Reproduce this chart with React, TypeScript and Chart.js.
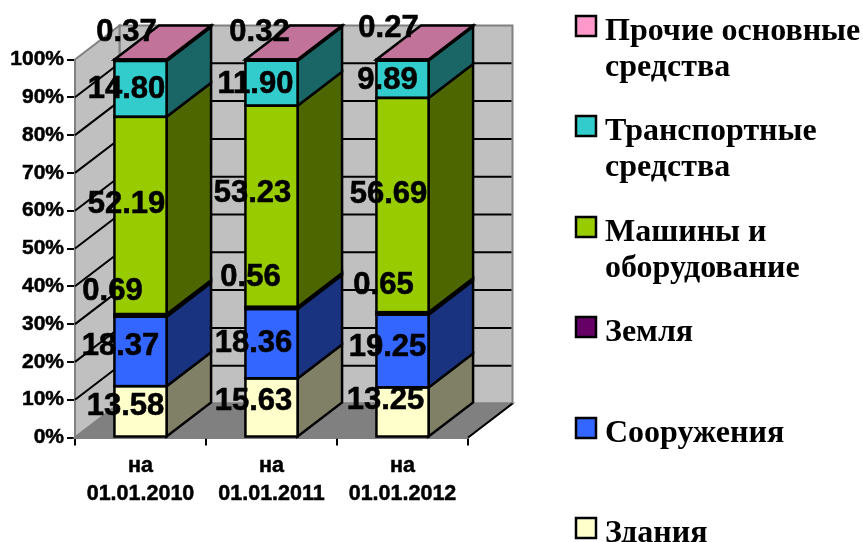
import React, { useEffect, useRef } from "react";
import { Chart, registerables } from "chart.js";

Chart.register(...registerables);

const categories = [["на", "01.01.2010"], ["на", "01.01.2011"], ["на", "01.01.2012"]];
const zdaniya = [13.58, 15.63, 13.25];
const sooruzheniya = [18.37, 18.36, 19.25];
const zemlya = [0.69, 0.56, 0.65];
const mashiny = [52.19, 53.23, 56.69];
const transport = [14.8, 11.9, 9.89];
const prochie = [0.37, 0.32, 0.27];

const legendZdaniya = ["Здания"];
const legendSooruzheniya = ["Сооружения"];
const legendZemlya = ["Земля"];
const legendMashiny = ["Машины и", "оборудование"];
const legendTransport = ["Транспортные", "средства"];
const legendProchie = ["Прочие основные", "средства"];

const SANS = '"Liberation Sans", Arial, sans-serif';
const SERIF = '"Liberation Serif", "Times New Roman", serif';
const DEPTH_X = 44.5;
const DEPTH_Y = 34;
const LEGEND_TOPS = [16, 116, 217, 317, 418, 518];

// label nudges, px from each segment's middle (dx, dy) per series, bottom series first
const LABEL_NUDGE: number[][][] = [
  [[-15, -4.5], [-18, -6], [-17, -11.5]],
  [[-20, -4.5], [-18, -0.5], [-15, -4]],
  [[-28, -23.5], [-21, -30.5], [-19, -27.5]],
  [[-14, -11.5], [-19, -12.5], [-14, -11]],
  [[-14, 0.5], [-16, 1.5], [-15, 1.5]],
  [[-14, -27.5], [-12, -27.5], [-14, -32]],
];

const poly = (ctx: CanvasRenderingContext2D, pts: number[][], fill: string | null, stroke: string | null, lw = 2.5) => {
  ctx.beginPath();
  pts.forEach((p, i) => (i ? ctx.lineTo(p[0], p[1]) : ctx.moveTo(p[0], p[1])));
  ctx.closePath();
  if (fill) {
    ctx.fillStyle = fill;
    ctx.fill();
  }
  if (stroke) {
    ctx.strokeStyle = stroke;
    ctx.lineWidth = lw;
    ctx.stroke();
  }
};

const box3d = {
  id: "box3d",
  beforeDatasetsDraw(chart: any) {
    const { ctx, chartArea: a, scales } = chart;
    const y = scales.y;
    ctx.save();
    ctx.lineJoin = "miter";
    // walls
    poly(ctx, [[a.left + DEPTH_X, a.top - DEPTH_Y], [a.right + DEPTH_X, a.top - DEPTH_Y], [a.right + DEPTH_X, a.bottom - DEPTH_Y], [a.left + DEPTH_X, a.bottom - DEPTH_Y]], "#C0C0C0", "#808080", 2);
    poly(ctx, [[a.left, a.top], [a.left + DEPTH_X, a.top - DEPTH_Y], [a.left + DEPTH_X, a.bottom - DEPTH_Y], [a.left, a.bottom]], "#C0C0C0", "#808080", 2);
    // floor
    poly(ctx, [[a.left, a.bottom], [a.right, a.bottom], [a.right + DEPTH_X, a.bottom - DEPTH_Y], [a.left + DEPTH_X, a.bottom - DEPTH_Y]], "#808080", "#808080", 2);
    // grid on walls
    ctx.strokeStyle = "#000";
    ctx.lineWidth = 2;
    y.ticks.forEach((t: any) => {
      if (t.value <= 0 || t.value >= 100) return;
      const py = y.getPixelForValue(t.value);
      ctx.beginPath();
      ctx.moveTo(a.left, py);
      ctx.lineTo(a.left + DEPTH_X, py - DEPTH_Y);
      ctx.lineTo(a.right + DEPTH_X - 1, py - DEPTH_Y);
      ctx.stroke();
    });
    // floor front-right edge
    ctx.beginPath();
    ctx.moveTo(a.right, a.bottom);
    ctx.lineTo(a.right + DEPTH_X, a.bottom - DEPTH_Y);
    ctx.stroke();
    // bar sides and tops
    const sides = chart.data.datasets.map((d: any) => d.sideColor);
    chart.data.datasets.forEach((d: any, di: number) => {
      chart.getDatasetMeta(di).data.forEach((bar: any) => {
        const r = bar.x + bar.width / 2;
        const l = bar.x - bar.width / 2;
        poly(ctx, [[r, bar.y], [r + DEPTH_X, bar.y - DEPTH_Y], [r + DEPTH_X, bar.base - DEPTH_Y], [r, bar.base]], sides[di], "#000");
        if (di === chart.data.datasets.length - 1) {
          poly(ctx, [[l, bar.y], [l + DEPTH_X, bar.y - DEPTH_Y], [r + DEPTH_X, bar.y - DEPTH_Y], [r, bar.y]], d.topColor, "#000");
        }
      });
    });
    ctx.restore();
  },
  afterDatasetsDraw(chart: any) {
    const { ctx } = chart;
    ctx.save();
    // outlines straddle each front face's edge, so the thinnest band reads as a dark stripe
    ctx.strokeStyle = "#000";
    ctx.lineWidth = 2.5;
    chart.data.datasets.forEach((d: any, di: number) => {
      chart.getDatasetMeta(di).data.forEach((bar: any) => {
        ctx.strokeRect(bar.x - bar.width / 2, bar.y, bar.width, bar.base - bar.y);
      });
    });
    ctx.font = `bold 31px ${SANS}`;
    ctx.fillStyle = "#000";
    ctx.strokeStyle = "#000";
    ctx.lineWidth = 0.6;
    ctx.textAlign = "center";
    ctx.textBaseline = "middle";
    chart.data.datasets.forEach((d: any, di: number) => {
      chart.getDatasetMeta(di).data.forEach((bar: any, i: number) => {
        const [dx, dy] = LABEL_NUDGE[di][i];
        const text = Number(d.data[i]).toFixed(2);
        const tx = bar.x + dx;
        const ty = (bar.y + bar.base) / 2 + dy;
        ctx.fillText(text, tx, ty);
        ctx.strokeText(text, tx, ty);
      });
    });
    ctx.restore();
  },
  afterDraw(chart: any) {
    const { ctx } = chart;
    ctx.save();
    ctx.textBaseline = "alphabetic";
    ctx.textAlign = "left";
    const list = [...chart.data.datasets].reverse();
    list.forEach((d: any, i: number) => {
      const top = LEGEND_TOPS[i];
      ctx.fillStyle = d.backgroundColor;
      ctx.fillRect(576, top, 20, 20);
      ctx.strokeStyle = "#000";
      ctx.lineWidth = 2.5;
      ctx.strokeRect(576, top, 20, 20);
      ctx.fillStyle = "#000";
      ctx.font = `bold 32px ${SERIF}`;
      d.legendLines.forEach((line: string, li: number) => {
        ctx.fillText(line, 605, top + 23.5 + li * 36.5);
      });
    });
    ctx.restore();
  },
};

export default function App() {
  const ref = useRef<HTMLCanvasElement>(null);
  useEffect(() => {
    const ds = (label: string, data: number[], fill: string, side: string, legendLines: string[], top?: string) => ({
      label,
      data,
      backgroundColor: fill,
      sideColor: side,
      topColor: top,
      legendLines,
      borderWidth: 0,
      categoryPercentage: 1,
      barPercentage: 0.398,
    });
    const chart = new Chart(ref.current!, {
      type: "bar",
      data: {
        labels: categories,
        datasets: [
          ds("Здания", zdaniya, "#FFFFCC", "#808066", legendZdaniya),
          ds("Сооружения", sooruzheniya, "#3366FF", "#1A3380", legendSooruzheniya),
          ds("Земля", zemlya, "#660066", "#330033", legendZemlya),
          ds("Машины и оборудование", mashiny, "#99CC00", "#4D6600", legendMashiny),
          ds("Транспортные средства", transport, "#33CCCC", "#1A6666", legendTransport),
          ds("Прочие основные средства", prochie, "#FF99CC", "#80264D", legendProchie, "#C17399"),
        ] as any,
      },
      options: {
        responsive: false,
        animation: false,
        devicePixelRatio: 1,
        layout: { padding: { top: 59.5, right: 395, left: 0, bottom: 0 } },
        plugins: { legend: { display: false }, tooltip: { enabled: false }, title: { display: false } },
        scales: {
          x: {
            stacked: true,
            afterFit: (s: any) => { s.height = 104.5; },
            grid: { drawOnChartArea: false, drawTicks: true, tickLength: 8, color: "#000", lineWidth: 2 },
            border: { color: "#000", width: 2.5 },
            ticks: {
              color: "#000",
              padding: 7,
              maxRotation: 0,
              autoSkip: false,
              textStrokeColor: "#000",
              textStrokeWidth: 0.5,
              font: { family: SANS, size: 21.5, weight: "bold", lineHeight: 1.28 },
            },
          },
          y: {
            stacked: true,
            min: 0,
            max: 100,
            afterFit: (s: any) => { s.width = 75; },
            grid: { drawOnChartArea: false, drawTicks: true, tickLength: 8, color: "#000", lineWidth: 2 },
            border: { color: "#808080", width: 2 },
            ticks: {
              stepSize: 10,
              color: "#000",
              padding: 3,
              textStrokeColor: "#000",
              textStrokeWidth: 0.5,
              font: { family: SANS, size: 21, weight: "bold" },
              callback: (v: any) => `${v}%`,
            },
          },
        },
      } as any,
      plugins: [box3d],
    });
    return () => chart.destroy();
  }, []);
  return (
    <div style={{ position: "absolute", left: 0, top: 0, width: 863, height: 542, background: "#fff" }}>
      <canvas ref={ref} width={863} height={542} style={{ display: "block" }} />
    </div>
  );
}
